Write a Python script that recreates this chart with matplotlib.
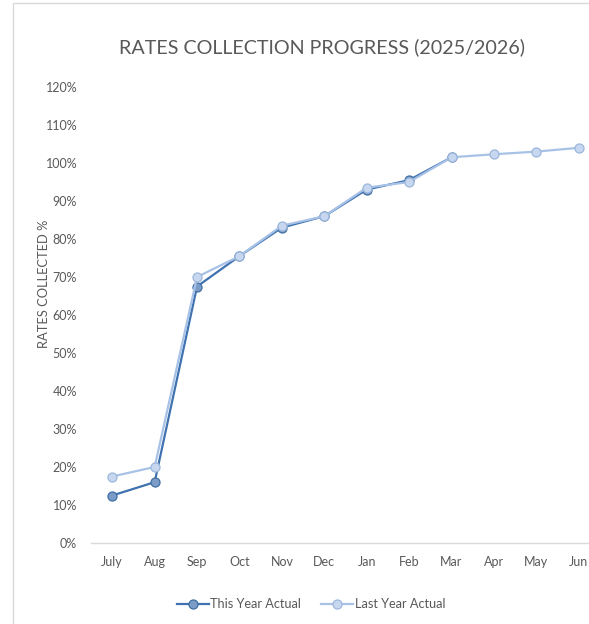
import matplotlib.pyplot as plt
from matplotlib.patches import Rectangle
from matplotlib.ticker import PercentFormatter

plt.rcParams['font.family'] = ['Lato', 'DejaVu Sans']

months = ['July', 'Aug', 'Sep', 'Oct', 'Nov', 'Dec', 'Jan', 'Feb', 'Mar', 'Apr', 'May', 'Jun']
this_year = [12.5, 16.0, 67.5, 75.5, 83.0, 86.0, 93.0, 95.5, 101.5]
last_year = [17.5, 20.0, 70.0, 75.5, 83.5, 86.0, 93.5, 95.0, 101.5, 102.3, 103.0, 104.0]

text_col = '#595959'

fig = plt.figure(figsize=(5.89, 6.24), dpi=100)
# chart border (cropped on right and bottom in the reference)
fig.patches.append(Rectangle((13 / 589, -0.1), 1.2, 1.1 - 3 / 624, transform=fig.transFigure,
                             fill=False, edgecolor='#D9D9D9', linewidth=1.0))

ax = fig.add_axes([91 / 589, 1 - 543 / 624, 509 / 589, (543 - 87) / 624])

x_this = range(len(this_year))
x_last = range(len(last_year))
ax.plot(x_this, [v / 100 for v in this_year], color='#3F72AF', linewidth=1.6,
        marker='o', markersize=6.5, markerfacecolor='#7C9CC8', markeredgecolor='#3F6EA3',
        markeredgewidth=0.9, label='This Year Actual', clip_on=False)
ax.plot(x_last, [v / 100 for v in last_year], color='#A7C2E6', linewidth=1.6,
        marker='o', markersize=6.5, markerfacecolor='#C7D7EF', markeredgecolor='#9CB6DB',
        markeredgewidth=0.9, label='Last Year Actual', clip_on=False)

ax.set_xlim(-0.5, len(months) - 0.5)
ax.set_ylim(0, 1.2)
ax.set_xticks(range(len(months)))
ax.set_xticklabels(months)
ax.set_yticks([i / 10 for i in range(13)])
ax.yaxis.set_major_formatter(PercentFormatter(1.0, decimals=0))
ax.tick_params(length=0, labelsize=9, colors=text_col, pad=10)
ax.tick_params(axis='x', pad=9)

for s in ['top', 'right', 'left']:
    ax.spines[s].set_visible(False)
ax.spines['bottom'].set_color('#D9D9D9')
ax.spines['bottom'].set_linewidth(1.0)

ax.set_ylabel('RATES COLLECTED %', fontsize=9.3, color=text_col)
ax.yaxis.set_label_coords(-0.081, 0.568)
fig.text(322 / 589, 1 - 47 / 624, 'RATES COLLECTION PROGRESS (2025/2026)', ha='center', va='center',
         fontsize=14.2, color=text_col)

fig.legend(loc='center', bbox_to_anchor=(311 / 589, 1 - 604 / 624), ncol=2, frameon=False,
           fontsize=9.2, labelcolor=text_col, handlelength=2.5, columnspacing=1.6, handletextpad=0.1)

fig.savefig('out.png', dpi=100)
